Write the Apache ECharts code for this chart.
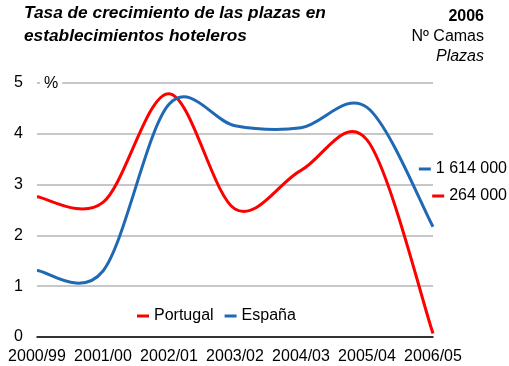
<!DOCTYPE html>
<html>
<head>
<meta charset="utf-8">
<script src="https://cdn.jsdelivr.net/npm/echarts@6/dist/echarts.min.js"></script>
<style>
  html, body { margin: 0; padding: 0; background: #fff; }
  #chart { width: 509px; height: 366px; }
</style>
</head>
<body>
<div id="chart"></div>
<script>
// Hotel bed-place growth rate (%) by season, Portugal vs España
const categories = ['2000/99', '2001/00', '2002/01', '2003/02', '2004/03', '2005/04', '2006/05'];
const portugal = [2.76, 2.65, 4.79, 2.52, 3.28, 3.88, 0.07];
const espana = [1.31, 1.30, 4.58, 4.16, 4.12, 4.52, 2.17];
const yTicks = [0, 1, 2, 3, 4, 5];
// Bed places in 2006 per country
const plazas2006 = { 'España': '1 614 000', 'Portugal': '264 000' };

const FONT = '"Liberation Sans", Arial, sans-serif';
const RED = '#ff0000';
const BLUE = '#1f69b4';

// Smooth line through every data point (uniform Catmull-Rom as cubic Béziers),
// with points placed by the chart's own axes via api.coord.
function splineRenderer(values) {
  return function (params, api) {
    if (params.dataIndex !== 0) return null;
    const pts = values.map((v, i) => api.coord([i, v]));
    const n = pts.length;
    let d = 'M' + pts[0][0] + ',' + pts[0][1];
    for (let i = 0; i < n - 1; i++) {
      const p0 = pts[Math.max(i - 1, 0)];
      const p1 = pts[i];
      const p2 = pts[i + 1];
      const p3 = pts[Math.min(i + 2, n - 1)];
      const c1x = p1[0] + (p2[0] - p0[0]) / 6, c1y = p1[1] + (p2[1] - p0[1]) / 6;
      const c2x = p2[0] - (p3[0] - p1[0]) / 6, c2y = p2[1] - (p3[1] - p1[1]) / 6;
      d += ' C' + c1x + ',' + c1y + ' ' + c2x + ',' + c2y + ' ' + p2[0] + ',' + p2[1];
    }
    return {
      type: 'path',
      shape: { pathData: d },
      style: { fill: null, stroke: api.visual('color'), lineWidth: 3, lineJoin: 'round', lineCap: 'butt' }
    };
  };
}

const chart = echarts.init(document.getElementById('chart'), null, { renderer: 'canvas' });

chart.setOption({
  animation: false,
  backgroundColor: '#fff',
  textStyle: { fontFamily: FONT, color: '#000' },
  title: [
    {
      text: 'Tasa de crecimiento de las plazas en\nestablecimientos hoteleros',
      left: 24, top: 2, padding: 0,
      textStyle: { fontFamily: FONT, fontSize: 17.3, fontWeight: 'bold', fontStyle: 'italic', color: '#000', lineHeight: 23 }
    },
    {
      text: '{b|2006}\n{n|Nº Camas}\n{i|Plazas}',
      right: 25, top: 7, padding: 0,
      textStyle: {
        fontFamily: FONT, color: '#000', fontWeight: 'normal',
        rich: {
          b: { fontFamily: FONT, fontSize: 16, fontWeight: 'bold', lineHeight: 20, align: 'right', color: '#000' },
          n: { fontFamily: FONT, fontSize: 16, fontWeight: 'normal', lineHeight: 20, align: 'right', color: '#000' },
          i: { fontFamily: FONT, fontSize: 16, fontWeight: 'normal', fontStyle: 'italic', lineHeight: 20, align: 'right', color: '#000' }
        }
      }
    }
  ],
  legend: [
    {
      data: ['Portugal', 'España'],
      left: 137, top: 308, itemGap: 11, itemWidth: 12, itemHeight: 3,
      icon: 'rect', padding: 0,
      textStyle: { fontFamily: FONT, fontSize: 16, color: '#000' }
    },
    {
      data: ['España'], right: 2, top: 161, itemWidth: 12, itemHeight: 3,
      icon: 'rect', padding: 0,
      formatter: n => plazas2006[n],
      textStyle: { fontFamily: FONT, fontSize: 16, color: '#000' }
    },
    {
      data: ['Portugal'], right: 2, top: 188, itemWidth: 12, itemHeight: 3,
      icon: 'rect', padding: 0,
      formatter: n => plazas2006[n],
      textStyle: { fontFamily: FONT, fontSize: 16, color: '#000' }
    }
  ],
  grid: { left: 37, right: 76, top: 83, bottom: 29, containLabel: false },
  xAxis: {
    type: 'category',
    data: categories,
    boundaryGap: false,
    axisLine: { lineStyle: { color: '#000', width: 1.5 } },
    axisTick: { show: false },
    axisLabel: { fontFamily: FONT, fontSize: 16, color: '#000', margin: 12, interval: 0 },
    splitLine: { show: false }
  },
  yAxis: {
    type: 'value',
    min: yTicks[0], max: yTicks[yTicks.length - 1], interval: 1,
    axisLine: { show: false },
    axisTick: { show: false },
    axisLabel: { fontFamily: FONT, fontSize: 16, color: '#000', margin: 14 },
    splitLine: { lineStyle: { color: '#b4b4b4', width: 1.5 } }
  },
  graphic: [
    {
      type: 'text', left: 40, top: 76, z: 10,
      style: { text: '%', fontFamily: FONT, fontSize: 16, fill: '#000', backgroundColor: '#fff', padding: [0, 4] }
    }
  ],
  series: [
    {
      name: 'Portugal', type: 'custom',
      data: portugal.map((v, i) => [i, v]),
      encode: { x: 0, y: 1 },
      itemStyle: { color: RED }, color: RED,
      renderItem: splineRenderer(portugal)
    },
    {
      name: 'España', type: 'custom',
      data: espana.map((v, i) => [i, v]),
      encode: { x: 0, y: 1 },
      itemStyle: { color: BLUE }, color: BLUE,
      renderItem: splineRenderer(espana)
    }
  ]
});
</script>
</body>
</html>
